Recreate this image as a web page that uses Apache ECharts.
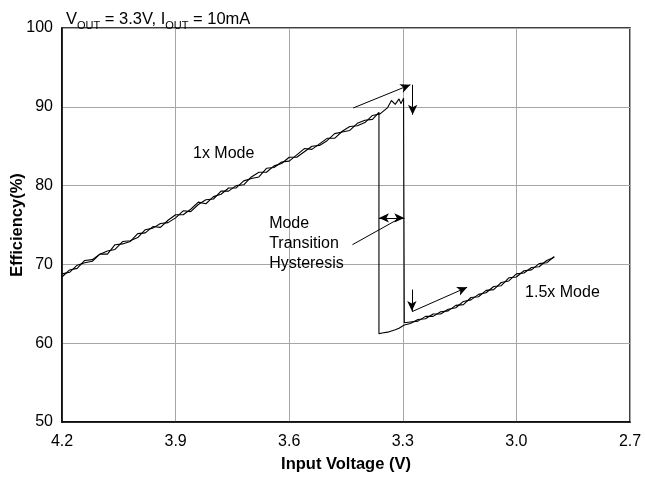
<!DOCTYPE html>
<html>
<head>
<meta charset="utf-8">
<script src="https://cdn.jsdelivr.net/npm/echarts@6/dist/echarts.min.js"></script>
<style>
html,body{margin:0;padding:0;background:#fff;}
#c{width:645px;height:479px;}
</style>
</head>
<body>
<div id="c"></div>
<script>
// ---- data ----
var xTicks = [4.2, 3.9, 3.6, 3.3, 3.0, 2.7];
var yTicks = [50, 60, 70, 80, 90, 100];

// 1x mode region (shared voltages)
var volt1x = [4.20,4.18,4.16,4.14,4.12,4.10,4.08,4.06,4.04,4.02,4.00,3.98,3.96,3.94,3.92,3.90,3.88,3.86,3.84,3.82,3.80,3.78,3.76,3.74,3.72,3.70,3.68,3.66,3.64,3.62,3.60,3.58,3.56,3.54,3.52,3.50,3.48,3.46,3.44,3.42,3.40,3.38,3.36];
var eff1xDown = [68.4,69.3,69.5,70.5,70.6,71.3,71.3,72.5,72.6,72.9,73.9,74.0,74.8,74.7,75.6,76.3,76.3,77.0,77.9,77.7,78.6,78.9,79.7,79.7,80.6,80.9,81.1,82.2,82.3,83.0,83.1,83.9,84.7,84.6,85.3,86.0,86.0,86.9,87.5,87.6,88.0,88.9,89.1];
var eff1xUp = [68.8,69.0,69.9,70.2,70.4,71.3,71.7,71.9,72.9,73.0,73.4,74.4,74.6,75.2,75.3,75.9,76.8,76.7,77.6,78.2,78.3,79.3,79.3,80.0,80.1,81.1,81.7,81.7,82.5,82.8,83.6,83.6,84.3,85.0,85.1,85.7,86.6,86.8,87.0,87.9,88.3,88.4,89.3];

// falling-input sweep: end of 1x mode and switch to 1.5x
var voltDownSwitch = [3.34,3.33,3.32,3.31,3.305,3.298,3.296];
var effDownSwitch  = [89.9,90.8,90.3,91.0,90.4,91.1,62.6];

// rising-input sweep: end of 1.5x mode and switch to 1x
var voltUpSwitch = [3.296,3.31,3.32,3.34,3.355,3.363,3.363];
var effUpSwitch  = [62.3,61.9,61.7,61.4,61.3,61.2,89.3];

// 1.5x mode region
var volt15 = [3.28,3.26,3.24,3.22,3.20,3.18,3.16,3.14,3.12,3.10,3.08,3.06,3.04,3.02,3.00,2.98,2.96,2.94,2.92,2.90];
var eff15Down = [62.7,62.8,63.4,63.4,64.0,64.1,64.8,64.9,65.8,65.9,66.7,66.8,67.7,67.9,68.8,68.9,69.6,69.7,70.5,70.9];
var eff15Up   = [62.5,63.0,63.1,63.7,63.7,64.3,64.5,65.3,65.5,66.2,66.4,67.2,67.3,68.3,68.4,69.2,69.3,70.1,70.2,71.0];

// annotation arrows (data coordinates): [x1,y1,x2,y2]
var arrowUpperDiag = [3.431, 89.85, 3.280, 92.8];
var arrowUpperDown = [3.274, 92.8, 3.274, 89.0];
var arrowLowerDown = [3.276, 66.8, 3.276, 64.1];
var arrowLowerDiag = [3.276, 64.0, 3.130, 67.1];
var arrowHyst      = [3.363, 75.9, 3.296, 75.9];
var pointerLine    = [3.433, 72.5, 3.310, 75.8];

// text labels (data coordinates of left/middle anchor)
var labels = [
  {text: '1x Mode', x: 3.854, y: 84.1},
  {text: 'Mode\nTransition\nHysteresis', x: 3.653, y: 72.7},
  {text: '1.5x Mode', x: 2.977, y: 66.4}
];

// ---- build ----
function pairs(xs, ys){ return xs.map(function(x,i){ return [x, ys[i]]; }); }
var downData = pairs(volt1x, eff1xDown).concat(pairs(voltDownSwitch, effDownSwitch), pairs(volt15, eff15Down));
var upData = pairs(volt15, eff15Up).reverse().concat(pairs(voltUpSwitch, effUpSwitch), pairs(volt1x, eff1xUp).reverse());

var FONT = '"Liberation Sans", Arial, sans-serif';

function arrow(a, s1, s2){
  return [{coord:[a[0],a[1]], symbol:s1}, {coord:[a[2],a[3]], symbol:s2}];
}

var chart = echarts.init(document.getElementById('c'), null, {renderer:'canvas'});
var option = {
  animation: false,
  backgroundColor: '#fff',
  title: {
    left: 61, top: 0,
    text: '{a|V}{s|OUT}{a| = 3.3V, I}{s|OUT}{a| = 10mA}',
    textStyle: {
      fontWeight: 'normal',
      rich: {
        a: {fontFamily: FONT, fontSize: 16.5, fontWeight: 'normal', color: '#000', height: 22, verticalAlign: 'top', padding:[3,0,0,0]},
        s: {fontFamily: FONT, fontSize: 11, fontWeight: 'normal', color: '#000', height: 22, verticalAlign: 'top', padding:[10,0,0,0]}
      }
    }
  },
  grid: {left: 62, right: 15, top: 28, bottom: 57, show: true, borderColor: '#000', borderWidth: 1.5, outerBoundsMode: 'none'},
  xAxis: {
    type: 'value', inverse: true, min: 2.7, max: 4.2, interval: 0.3,
    name: 'Input Voltage (V)', nameLocation: 'middle', nameGap: 34, nameMoveOverlap: false,
    nameTextStyle: {fontFamily: FONT, fontSize: 16.5, fontWeight: 'bold', color: '#000'},
    axisLine: {show: true, lineStyle: {color: '#000', width: 1.5}},
    axisTick: {show: false},
    axisLabel: {fontFamily: FONT, fontSize: 16, color: '#000', margin: 12,
      formatter: function(v){ return v.toFixed(1); }},
    splitLine: {show: true, lineStyle: {color: '#a6a6a6', width: 1}}
  },
  yAxis: {
    type: 'value', min: 50, max: 100, interval: 10,
    name: 'Efficiency(%)', nameLocation: 'middle', nameGap: 36, nameMoveOverlap: false,
    nameTextStyle: {fontFamily: FONT, fontSize: 16.5, fontWeight: 'bold', color: '#000'},
    axisLine: {show: true, lineStyle: {color: '#000', width: 1.5}},
    axisTick: {show: false},
    axisLabel: {fontFamily: FONT, fontSize: 16, color: '#000', margin: 9},
    splitLine: {show: true, lineStyle: {color: '#a6a6a6', width: 1}}
  },
  series: [
    {
      type: 'line', name: 'falling', data: downData, showSymbol: false, symbol: 'none',
      lineStyle: {color: '#000', width: 1.1}, silent: true,
      markLine: {
        silent: true, symbolSize: [7, 10], precision: 3,
        label: {show: false},
        lineStyle: {color: '#000', width: 1, type: 'solid'},
        emphasis: {disabled: true},
        data: [
          arrow(arrowUpperDiag, 'none', 'arrow'),
          arrow(arrowUpperDown, 'none', 'arrow'),
          arrow(arrowLowerDown, 'none', 'arrow'),
          arrow(arrowLowerDiag, 'none', 'arrow'),
          arrow(arrowHyst, 'arrow', 'arrow'),
          arrow(pointerLine, 'none', 'none')
        ]
      }
    },
    {
      type: 'line', name: 'rising', data: upData, showSymbol: false, symbol: 'none',
      lineStyle: {color: '#000', width: 1.1}, silent: true
    }
  ]
};
chart.setOption(option);

var g = labels.map(function(l){
  var p = chart.convertToPixel({gridIndex: 0}, [l.x, l.y]);
  return {
    type: 'text', x: p[0], y: p[1], silent: true,
    style: {text: l.text, fill: '#000', font: '16px ' + FONT, align: 'left', verticalAlign: 'middle', lineHeight: 20}
  };
});
chart.setOption({graphic: g});
</script>
</body>
</html>
